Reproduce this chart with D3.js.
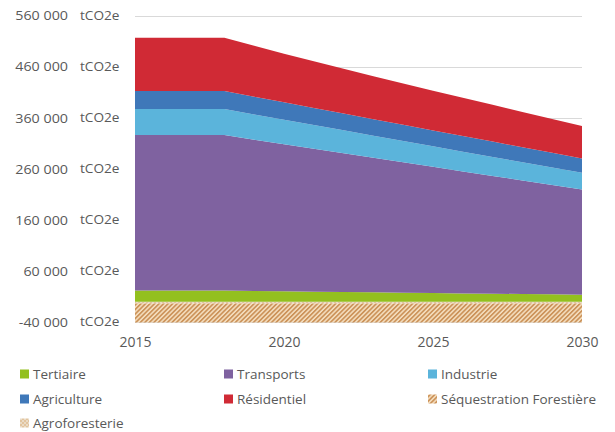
<!DOCTYPE html>
<html><head><meta charset="utf-8">
<script src="https://cdn.jsdelivr.net/npm/d3@7"></script>
<style>body{margin:0;background:#fff;} svg{display:block;font-family:"Open Sans",sans-serif;}</style>
</head><body>
<script>
const years = [2015,2016,2017,2018,2019,2020,2021,2022,2023,2024,2025,2026,2027,2028,2029,2030];
const tertiaire = [22000,22000,22000,22000,21300,20600,20000,19300,18600,18000,17300,16600,16000,15300,14700,14000];
const transports = [304300,304300,304300,304300,296100,287900,279700,271500,263300,255100,246900,238700,230500,222300,214100,206000];
const industrie = [50900,50900,50900,50900,49400,47800,46300,44800,43200,41700,40100,38600,37100,35600,34000,32500];
const agriculture = [35300,35300,35300,35300,34700,34100,33500,32900,32300,31800,31200,30600,30000,29400,28800,28200];
const residentiel = [104500,104500,104500,104500,99800,95300,91300,87500,84000,80700,77700,74800,71900,69000,66100,63300];
const sequestration = [-37500,-37500,-37500,-37500,-37500,-37500,-37500,-37500,-37500,-37500,-37500,-37500,-37500,-37500,-37500,-37500];
const agroforesterie = [-3000,-3000,-3000,-3000,-3000,-3000,-3000,-3000,-3000,-3000,-3000,-3000,-3000,-3000,-3000,-3000];
const yTicks = [-40000,60000,160000,260000,360000,460000,560000];
const xTicks = [2015,2020,2025,2030];
const legendOrder = ["Tertiaire","Transports","Industrie","Agriculture","Résidentiel","Séquestration Forestière","Agroforesterie"];

const seriesData = {
  "Tertiaire": tertiaire, "Transports": transports, "Industrie": industrie,
  "Agriculture": agriculture, "Résidentiel": residentiel,
  "Séquestration Forestière": sequestration, "Agroforesterie": agroforesterie
};
const fills = {
  "Tertiaire": "#93c01f", "Transports": "#7f62a0", "Industrie": "#5bb4db",
  "Agriculture": "#3f78b9", "Résidentiel": "#d02a35",
  "Séquestration Forestière": "url(#hatch)", "Agroforesterie": "url(#checker)"
};
const stackKeys = ["Agroforesterie","Séquestration Forestière","Tertiaire","Transports","Industrie","Agriculture","Résidentiel"];

const rows = years.map((yr,i)=>{ const o={year:yr}; for(const k of stackKeys) o[k]=seriesData[k][i]; return o; });

const W=615,H=432;
const svg = d3.select("body").append("svg").attr("width",W).attr("height",H);
const defs = svg.append("defs");
const hp = defs.append("pattern").attr("id","hatch").attr("patternUnits","userSpaceOnUse")
  .attr("width",3.2).attr("height",3.2).attr("patternTransform","rotate(45)");
hp.append("rect").attr("width",3.2).attr("height",3.2).attr("fill","#f5dfc0");
hp.append("rect").attr("width",1.7).attr("height",3.2).attr("fill","#cc935a");
const cp = defs.append("pattern").attr("id","checker").attr("patternUnits","userSpaceOnUse")
  .attr("width",4).attr("height",4);
cp.append("rect").attr("width",4).attr("height",4).attr("fill","#eadbc6");
cp.append("rect").attr("width",2).attr("height",2).attr("fill","#e2c49e");
cp.append("rect").attr("x",2).attr("y",2).attr("width",2).attr("height",2).attr("fill","#e2c49e");

const x = d3.scaleLinear().domain([2015,2030]).range([135,582]);
const y = d3.scaleLinear().domain([-40000,560000]).range([322.3,15.7]);

// gridlines
svg.append("g").selectAll("line").data(yTicks).join("line")
  .attr("x1",135).attr("x2",582).attr("y1",d=>Math.round(y(d))+0.5).attr("y2",d=>Math.round(y(d))+0.5)
  .attr("stroke","#d9d9d9").attr("stroke-width",1);

const stack = d3.stack().keys(stackKeys).offset(d3.stackOffsetDiverging).order(d3.stackOrderNone);
const layers = stack(rows);
const area = d3.area().x(d=>x(d.data.year)).y0(d=>y(d[0])).y1(d=>y(d[1]));
svg.append("g").selectAll("path").data(layers).join("path")
  .attr("d",area).attr("fill",d=>fills[d.key]);

// y axis labels
const yAxis = d3.axisLeft(y).tickValues(yTicks).tickSize(0).tickPadding(0)
  .tickFormat(d=>d3.format(",")(d).replace(/,/g," ").replace("\u2212","-"));
const ga = svg.append("g").attr("transform","translate(68,0)").call(yAxis);
ga.select(".domain").remove();
ga.selectAll("text").attr("font-family","'Open Sans',sans-serif").attr("font-size",13)
  .attr("fill","#595959").attr("transform","scale(1.1,1)");
svg.append("g").selectAll("text").data(yTicks).join("text")
  .attr("transform",d=>`translate(80,${y(d)}) scale(1.05,1)`).attr("dy","0.32em")
  .attr("font-size",13).attr("fill","#595959").text("tCO2e");

// x axis
const xAxis = d3.axisBottom(x).tickValues(xTicks).tickSize(0).tickPadding(0).tickFormat(d3.format("d"));
const gx = svg.append("g").attr("transform","translate(0,337)").call(xAxis);
gx.select(".domain").remove();
gx.selectAll("text").attr("font-family","'Open Sans',sans-serif").attr("font-size",14).attr("fill","#595959").attr("dy","0.71em");

// legend
const colX = [20,224,428], rowY = [374,399,423];
const lg = svg.append("g");
legendOrder.forEach((k,i)=>{
  const cx = colX[i%3], cy = rowY[Math.floor(i/3)];
  lg.append("rect").attr("x",cx).attr("y",cy-4.5).attr("width",9).attr("height",9).attr("fill",fills[k]);
  lg.append("text").attr("x",cx+13).attr("y",cy).attr("dy","0.35em").attr("font-size",13.5).attr("fill","#595959").text(k);
});
</script>
</body></html>
